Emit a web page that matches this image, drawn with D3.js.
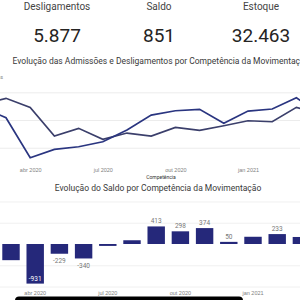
<!DOCTYPE html>
<html lang="pt">
<head>
<meta charset="utf-8">
<title>Evolução do Saldo</title>
<script src="https://d3js.org/d3.v7.min.js"></script>
<style>
  body { margin: 0; background: #fff; }
  svg { display: block; font-family: Roboto, "Open Sans", sans-serif; }
  .tick text { fill: #808080; }
</style>
</head>
<body>
<svg id="chart" width="300" height="300"></svg>
<script>
// cards
const cardTitles = ["Desligamentos", "Saldo", "Estoque"];
const cardValues = ["5.877", "851", "32.463"];

// monthly series
const months = ["fev 2020", "mar 2020", "abr 2020", "mai 2020", "jun 2020", "jul 2020", "ago 2020",
  "set 2020", "out 2020", "nov 2020", "dez 2020", "jan 2021", "fev 2021", "mar 2021", "abr 2021"];
const admissoes = [1235, 1042, 319, 471, 518, 608, 819, 1090, 1168, 1193, 940, 1162, 1199, 1403, 1100];
const desligamentos = [1280, 1392, 1229, 711, 850, 652, 765, 711, 868, 814, 897, 987, 969, 1229, 1110];
const saldo = [-45, -380, -931, -229, -340, -45, 88, 413, 298, 374, 50, 170, 233, 165, -10];
const barLabels = ["", "", "-931", "-229", "-340", "", "", "413", "298", "374", "50", "", "233", "", ""];
const xTicks = ["abr 2020", "jul 2020", "out 2020", "jan 2021"];
const lineGrid = [500, 1000, 1500];
const barGrid = [-1000, -500, 500, 1000];

const svg = d3.select("#chart");
const W = 300;

// ---- cards
const cardX = d3.scalePoint().domain(cardTitles).range([57, 261]);
svg.append("g").selectAll("text.ct")
  .data(cardTitles).join("text")
  .attr("x", d => cardX(d)).attr("y", 10)
  .attr("text-anchor", "middle")
  .attr("font-size", 10).attr("fill", "#444")
  .text(d => d);
svg.append("g").selectAll("text.cv")
  .data(cardValues).join("text")
  .attr("x", (d, i) => cardX(cardTitles[i])).attr("y", 42)
  .attr("text-anchor", "middle")
  .attr("font-size", 19).attr("fill", "#252423")
  .text(d => d);

// ---- line chart
svg.append("text")
  .attr("x", 161).attr("y", 64).attr("text-anchor", "middle")
  .attr("font-size", 8.5).attr("fill", "#3a3a3a")
  .text("Evolução das Admissões e Desligamentos por Competência da Movimentação");

svg.append("text")
  .attr("x", 3).attr("y", 79).attr("text-anchor", "end")
  .attr("font-size", 5.5).attr("fill", "#888")
  .text("Admissões e Desligamentos");

const xl = d3.scalePoint().domain(months).range([-18.2, -18.2 + 14 * 24.2]);
const yl = d3.scaleLinear().domain([300, 1600]).range([158.8, 86.8]);

svg.append("g")
  .call(d3.axisLeft(yl).tickValues(lineGrid).tickSize(-W).tickFormat(""))
  .call(g => g.select(".domain").remove())
  .call(g => g.selectAll("line").attr("stroke", "#ececec").attr("x1", 0).attr("x2", W));

const line = d3.line().x((d, i) => xl(months[i])).y(d => yl(d));
svg.append("path").datum(desligamentos)
  .attr("d", line).attr("fill", "none")
  .attr("stroke", "#3b3f6b").attr("stroke-width", 1.7);
svg.append("path").datum(admissoes)
  .attr("d", line).attr("fill", "none")
  .attr("stroke", "#2a3580").attr("stroke-width", 1.7);

svg.append("g")
  .attr("transform", "translate(0,168)")
  .call(d3.axisBottom(xl).tickValues(xTicks).tickSize(0).tickPadding(0))
  .call(g => g.select(".domain").remove())
  .call(g => g.selectAll("text").attr("font-size", 5.5));

svg.append("text")
  .attr("x", 161).attr("y", 179).attr("text-anchor", "middle")
  .attr("font-size", 5).attr("fill", "#333")
  .text("Competência");

// ---- bar chart
svg.append("text")
  .attr("x", 158).attr("y", 191).attr("text-anchor", "middle")
  .attr("font-size", 8.5).attr("fill", "#3a3a3a")
  .text("Evolução do Saldo por Competência da Movimentação");

const xb = d3.scaleBand().domain(months).range([-25.3, 337.7])
  .paddingInner(0.28).paddingOuter(0.14);
const yb = d3.scaleLinear().domain([-1100, 1100]).range([290.8, 197.2]);

svg.append("g")
  .call(d3.axisLeft(yb).tickValues(barGrid).tickSize(-W).tickFormat(""))
  .call(g => g.select(".domain").remove())
  .call(g => g.selectAll("line").attr("stroke", "#f0f0f0").attr("x1", 0).attr("x2", W));

svg.append("g").attr("fill", "#25287a")
  .selectAll("rect").data(saldo).join("rect")
  .attr("x", (d, i) => xb(months[i]))
  .attr("y", d => yb(Math.max(0, d)))
  .attr("width", xb.bandwidth())
  .attr("height", d => Math.abs(yb(d) - yb(0)));

svg.append("g").selectAll("text").data(saldo).join("text")
  .attr("x", (d, i) => xb(months[i]) + xb.bandwidth() / 2)
  .attr("y", d => d >= 0 ? yb(d) - 3 : (d < -800 ? yb(d) - 2.3 : yb(d) + 9.4))
  .attr("text-anchor", "middle")
  .attr("font-size", 6.5)
  .attr("fill", d => d < -800 ? "#fff" : "#777")
  .text((d, i) => barLabels[i]);

svg.append("g")
  .attr("transform", "translate(0,291)")
  .call(d3.axisBottom(xb).tickValues(xTicks).tickSize(0).tickPadding(0))
  .call(g => g.select(".domain").remove())
  .call(g => g.selectAll("text").attr("font-size", 5.5));

// home indicator bar at bottom of the screenshot
svg.append("rect")
  .attr("x", 15).attr("y", 296.5).attr("width", 228).attr("height", 8)
  .attr("rx", 4).attr("fill", "#000");
</script>
</body>
</html>
